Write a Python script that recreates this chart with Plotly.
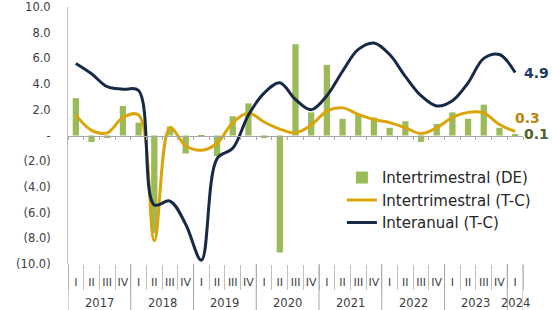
import plotly.graph_objects as go

# ---- data ----
year_labels = ["2017", "2018", "2019", "2020", "2021", "2022", "2023", "2024"]
quarters_per_year = [4, 4, 4, 4, 4, 4, 4, 1]
quarter_names = ["I", "II", "III", "IV"]

intertrimestral_de = [2.9, -0.5, -0.2, 2.3,
                      1.0, -7.6, 0.7, -1.4,
                      -0.1, -1.6, 1.5, 2.5,
                      -0.2, -9.1, 7.1, 1.8,
                      5.5, 1.3, 1.6, 1.4,
                      0.6, 1.1, -0.5, 0.9,
                      1.8, 1.3, 2.4, 0.6,
                      0.1]
intertrimestral_tc = [1.6, 0.4, 0.2, 1.4,
                      1.6, -8.2, 0.6, -0.8,
                      -1.15, -0.6, 1.0, 1.75,
                      1.05, 0.5, 0.2, 0.8,
                      1.9, 2.15, 1.65, 1.25,
                      1.0, 0.6, 0.15, 0.6,
                      1.4, 1.8, 1.75, 0.85,
                      0.3]
interanual_tc = [5.6, 4.8, 3.8, 3.6,
                 3.5, -5.4, -5.1, -6.9,
                 -9.7, -1.8, -1.0, 1.6,
                 3.3, 4.1, 2.8, 2.0,
                 3.1, 5.0, 6.7, 7.2,
                 6.3, 4.6, 3.1, 2.3,
                 2.7, 4.1, 6.0, 6.3,
                 4.9]

y_tickvals = [10, 8, 6, 4, 2, 0, -2, -4, -6, -8, -10]
y_ticktext = ["10.0", "8.0", "6.0", "4.0", "2.0", "-", "(2.0)", "(4.0)", "(6.0)", "(8.0)", "(10.0)"]

# ---- build category positions ----
x_quarters = []
year_start = []
for nq in quarters_per_year:
    year_start.append(len(x_quarters))
    x_quarters.extend(quarter_names[:nq])
n = len(x_quarters)
x_idx = list(range(n))
boundaries = [i - 0.5 for i in range(n + 1)]
year_edges = [s - 0.5 for s in year_start] + [n - 0.5]
year_centers = [s + (nq - 1) / 2 for s, nq in zip(year_start, quarters_per_year)]

FONT = "DejaVu Sans"
C_BAR = "#9BBB59"
C_GOLD = "#DAA50A"
C_NAVY = "#172A45"
C_AX = "#404040"

fig = go.Figure()
fig.add_trace(go.Bar(x=x_idx, y=intertrimestral_de,
                     name="Intertrimestral (DE)", marker_color=C_BAR,
                     marker_line_width=0))
fig.add_trace(go.Scatter(x=x_idx, y=intertrimestral_tc,
                         name="Intertrimestral (T-C)", mode="lines",
                         line=dict(color=C_GOLD, width=3, shape="spline", smoothing=1.0)))
fig.add_trace(go.Scatter(x=x_idx, y=interanual_tc,
                         name="Interanual (T-C)", mode="lines",
                         line=dict(color=C_NAVY, width=3, shape="spline", smoothing=1.0)))
# helper trace to carry the zero-line axis with its small ticks
fig.add_trace(go.Scatter(x=x_idx, y=intertrimestral_de, xaxis="x2",
                         mode="none", showlegend=False, hoverinfo="skip"))

fig.update_layout(
    width=552, height=310,
    margin=dict(l=68, r=29, t=7, b=46, autoexpand=False),
    paper_bgcolor="white", plot_bgcolor="white",
    font=dict(family=FONT, size=11, color=C_AX),
    bargap=0.6,
    showlegend=True,
    legend=dict(x=0.602, y=0.40, xanchor="left", yanchor="top",
                bgcolor="rgba(0,0,0,0)", font=dict(size=15, color="#262626"),
                tracegroupgap=0, itemwidth=30),
    xaxis=dict(range=[-0.5, n - 0.5], tickmode="array", tickvals=x_idx,
               ticktext=x_quarters, tickangle=0, ticks="", showline=False,
               showgrid=False, zeroline=False, automargin=False,
               ticklabelstandoff=10, tickfont=dict(size=11, color=C_AX),
               minor=dict(tickmode="array", tickvals=boundaries, ticks="outside",
                          ticklen=25, tickcolor="#BFBFBF", tickwidth=1,
                          showgrid=False)),
    xaxis2=dict(overlaying="x", anchor="free", position=0.5,
                range=[-0.5, n - 0.5], tickmode="array", tickvals=boundaries,
                ticks="outside", ticklen=3, tickcolor="#A6A6A6",
                showticklabels=False, showline=True, linecolor="#A6A6A6",
                linewidth=1, showgrid=False, zeroline=False, automargin=False),
    yaxis=dict(range=[-10, 10], tickvals=y_tickvals, ticktext=y_ticktext,
               showgrid=False, zeroline=False, showline=True,
               linecolor="#BFBFBF", linewidth=1, ticks="", automargin=False,
               ticklabelstandoff=14, tickfont=dict(size=11.5, color=C_AX)),
)

# year dividers and year labels below the quarter labels
for xe in year_edges:
    fig.add_shape(type="line", xref="x", yref="paper", x0=xe, x1=xe, y0=0, y1=-0.18,
                  line=dict(color="#A6A6A6", width=1))
for yl, xc in zip(year_labels, year_centers):
    fig.add_annotation(xref="x", x=xc, yref="paper", y=-0.152, text=yl,
                       showarrow=False, xanchor="center", yanchor="middle",
                       font=dict(family=FONT, size=11.5, color=C_AX))

end_labels = [
    (interanual_tc[-1], "#1F3864", 28, 0),
    (intertrimestral_tc[-1], "#B8860B", 19, 14),
    (intertrimestral_de[-1], "#4F6228", 28, 0),
]
for val, col, xs, ys in end_labels:
    fig.add_annotation(xref="paper", x=1, yref="y", y=val, text=f"<b>{val:.1f}</b>",
                       showarrow=False, xanchor="right", yanchor="middle",
                       xshift=xs, yshift=ys,
                       font=dict(family=FONT, size=14, color=col))

fig.write_html("out.html", config={"displayModeBar": False},
               post_script="document.body.style.margin='0px';document.body.style.overflow='hidden';")
